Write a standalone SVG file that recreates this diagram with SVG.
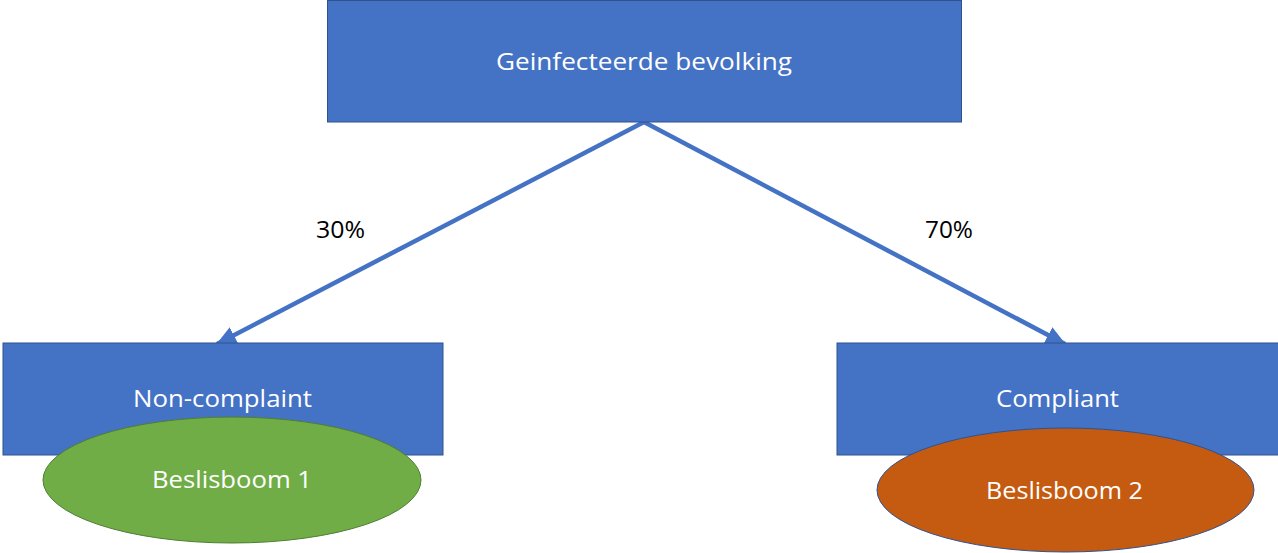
<svg xmlns="http://www.w3.org/2000/svg" width="1278" height="553" viewBox="0 0 1278 553">
<style>
.box{fill:#4472C4;stroke:#2F528F;stroke-width:1}
.lbl{font-family:"Open Sans","Liberation Sans",sans-serif;font-size:24px;fill:#FFFFFF;text-anchor:middle}
.pct{font-family:"Open Sans","Liberation Sans",sans-serif;font-size:24px;fill:#000000;text-anchor:middle}
.conn{stroke:#4472C4;stroke-width:4.5;fill:none}
</style>
<defs>
<marker id="arr" viewBox="0 0 20 18" refX="19" refY="9" markerWidth="20" markerHeight="18" markerUnits="userSpaceOnUse" orient="auto">
<path d="M0,0 L20,9 L0,18 Z" fill="#4472C4"/>
</marker>
</defs>
<rect width="1278" height="553" fill="#FFFFFF"/>
<g id="connectors">
<line class="conn" x1="644" y1="122" x2="217" y2="344" marker-end="url(#arr)"/>
<line class="conn" x1="644" y1="122" x2="1065" y2="344" marker-end="url(#arr)"/>
<text class="pct" x="340.5" y="238" textLength="49" lengthAdjust="spacingAndGlyphs">30%</text>
<text class="pct" x="949" y="238" textLength="48" lengthAdjust="spacingAndGlyphs">70%</text>
</g>
<g id="top">
<rect class="box" x="327.5" y="0.5" width="634" height="121.5"/>
<text class="lbl" x="644" y="70" textLength="296" lengthAdjust="spacingAndGlyphs">Geinfecteerde bevolking</text>
</g>
<g id="noncompliant">
<rect class="box" x="3" y="343" width="440" height="112"/>
<text class="lbl" x="222.5" y="407" textLength="179" lengthAdjust="spacingAndGlyphs">Non-complaint</text>
</g>
<g id="compliant">
<rect class="box" x="837" y="343" width="445" height="112"/>
<text class="lbl" x="1057.5" y="407" textLength="123" lengthAdjust="spacingAndGlyphs">Compliant</text>
</g>
<g id="beslisboom1">
<ellipse cx="232" cy="480" rx="189" ry="63" fill="#70AD47" stroke="#507E32" stroke-width="1"/>
<text class="lbl" x="232" y="488" textLength="160" lengthAdjust="spacingAndGlyphs">Beslisboom 1</text>
</g>
<g id="beslisboom2">
<ellipse cx="1065.5" cy="490" rx="188.5" ry="62" fill="#C55A11" stroke="#2F528F" stroke-width="1"/>
<text class="lbl" x="1064.5" y="499" textLength="157" lengthAdjust="spacingAndGlyphs">Beslisboom 2</text>
</g>
</svg>
